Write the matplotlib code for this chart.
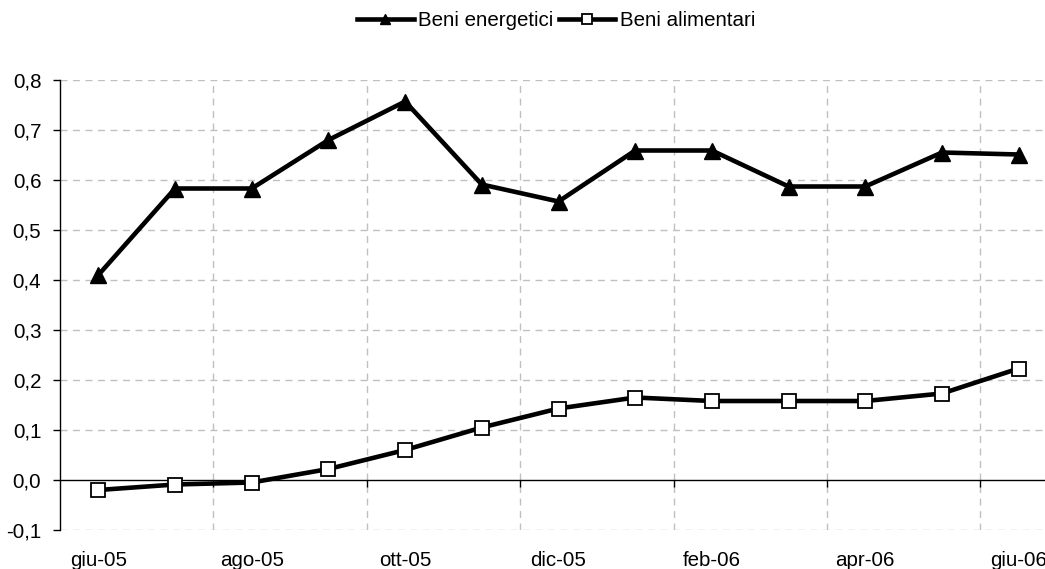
import matplotlib.pyplot as plt
from matplotlib.ticker import FuncFormatter, FixedLocator

plt.rcParams['font.family'] = ['Liberation Sans', 'DejaVu Sans']

mesi = ['giu-05', 'lug-05', 'ago-05', 'set-05', 'ott-05', 'nov-05', 'dic-05',
        'gen-06', 'feb-06', 'mar-06', 'apr-06', 'mag-06', 'giu-06']
energetici = [0.41, 0.583, 0.583, 0.68, 0.757, 0.591, 0.557,
              0.659, 0.659, 0.587, 0.587, 0.655, 0.651]
alimentari = [-0.02, -0.009, -0.005, 0.022, 0.06, 0.105, 0.143,
              0.165, 0.158, 0.158, 0.158, 0.173, 0.223]

x = list(range(len(mesi)))
W, H = 1045, 569
fs = 14.8
fig = plt.figure(figsize=(W / 100, H / 100), dpi=100)
ax = fig.add_axes([60 / W, (H - 530) / H, (1057 - 60) / W, 450 / H])

grid = dict(color='#c0c0c0', lw=1, ls=(0, (5, 4)), zorder=0)
for v in [-0.1, 0.1, 0.2, 0.3, 0.4, 0.5, 0.6, 0.7, 0.8]:
    ax.axhline(v, **grid)
for v in [1.5, 3.5, 5.5, 7.5, 9.5, 11.5]:
    ax.axvline(v, **grid)

ax.plot(x, energetici, color='black', lw=3.3, marker='^', ms=11,
        mfc='black', mec='black', label='Beni energetici', zorder=3)
ax.plot(x, alimentari, color='black', lw=3.3, marker='s', ms=9.5,
        mfc='white', mec='black', mew=1.3, label='Beni alimentari', zorder=3)

ax.set_xlim(-0.5, 12.5)
ax.set_ylim(-0.1, 0.8)
ax.set_yticks([-0.1, 0, 0.1, 0.2, 0.3, 0.4, 0.5, 0.6, 0.7, 0.8])
ax.yaxis.set_major_formatter(FuncFormatter(lambda v, p: f'{v:.1f}'.replace('.', ',')))
ax.tick_params(axis='y', length=5, width=1, labelsize=fs, pad=8.5)

for s in ['top', 'right']:
    ax.spines[s].set_visible(False)
ax.spines['bottom'].set_position(('data', 0))
ax.spines['bottom'].set_linewidth(1)
ax.spines['left'].set_linewidth(1)
ax.xaxis.set_major_locator(FixedLocator([1.5, 3.5, 5.5, 7.5, 9.5, 11.5]))
ax.tick_params(axis='x', length=5, width=1, labelbottom=False)

sec = ax.secondary_xaxis('bottom')
sec.set_xticks(x[::2])
sec.set_xticklabels(mesi[::2])
sec.tick_params(length=0, labelsize=fs, pad=15)
sec.spines['bottom'].set_visible(False)

fig.legend(loc='center', bbox_to_anchor=(556 / W, 1 - 21 / H), ncol=2,
           frameon=False, fontsize=fs, handlelength=2.75, handletextpad=0.22,
           columnspacing=0.25, markerscale=0.7)

fig.savefig('out.png', dpi=100)
